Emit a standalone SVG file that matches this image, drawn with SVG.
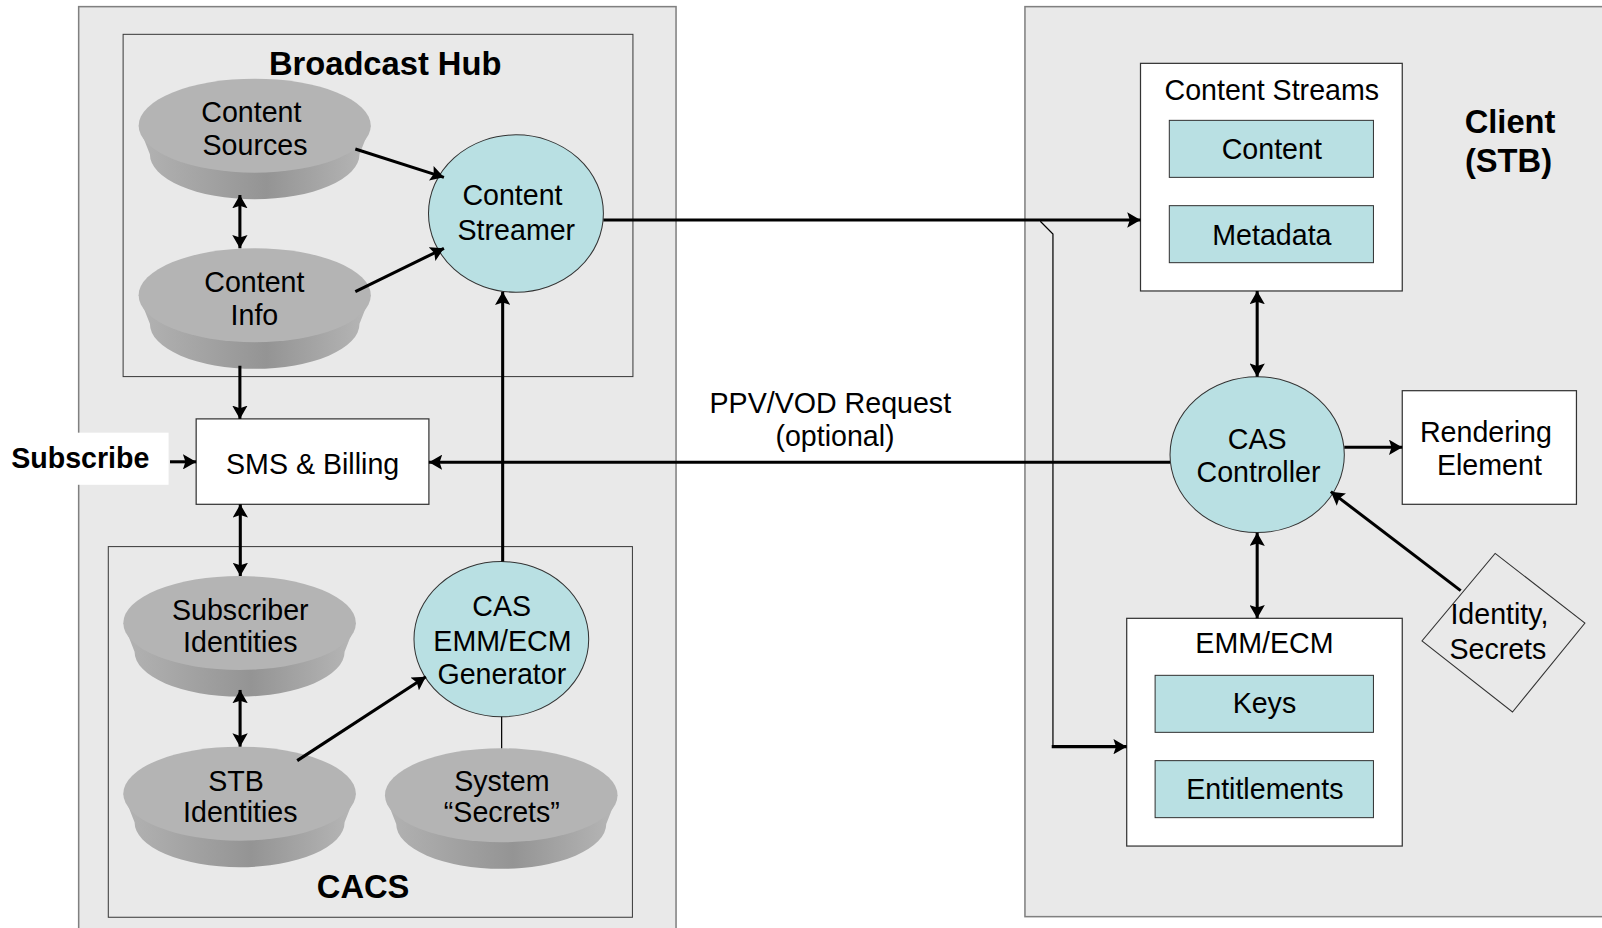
<svg xmlns="http://www.w3.org/2000/svg" width="1602" height="928" viewBox="0 0 1602 928">
<defs>
<linearGradient id="band" x1="0" y1="0" x2="1" y2="0">
<stop offset="0" stop-color="#b3b3b3"/>
<stop offset="0.55" stop-color="#949494"/>
<stop offset="1" stop-color="#b7b7b7"/>
</linearGradient>
<marker id="ah" viewBox="0 0 13 15" refX="13" refY="7.5" markerWidth="13" markerHeight="15" markerUnits="userSpaceOnUse" orient="auto-start-reverse">
<path d="M0,0 L13,7.5 L0,15 L2.5,7.5 Z" fill="#000"/>
</marker>
<style>
.panel{fill:#e9e9e9;stroke:#808080;stroke-width:1.5}
.group{fill:#e9e9e9;stroke:#3a3a3a;stroke-width:1}
.box{fill:#ffffff;stroke:#333333;stroke-width:1.2}
.cyan{fill:#b9e0e3;stroke:#333333;stroke-width:1}
.dbtop{fill:#b4b4b4}
.dbband{fill:url(#band)}
.t{font-family:"Liberation Sans",Arial,sans-serif;font-size:28px;fill:#000;text-anchor:middle}
.b{font-family:"Liberation Sans",Arial,sans-serif;font-size:32px;font-weight:bold;fill:#000;text-anchor:middle}
.c{fill:none;stroke:#000;stroke-width:3}
.thin{fill:none;stroke:#000;stroke-width:1.2}
</style>
</defs>
<rect x="0" y="0" width="1602" height="928" fill="#ffffff"/>
<g id="diagram" transform="scale(1.02168)">
<g id="broadcast-side">
<rect class="panel" x="77" y="6.5" width="584.7" height="920"/>
</g>
<g id="client-side">
<rect class="panel" x="1003.2" y="6.5" width="620" height="890.7"/>
<text class="b" x="1478" y="130.5">Client</text>
<text class="b" x="1476.5" y="168">(STB)</text>
</g>
<g id="subscribe">
<rect x="0" y="423.5" width="165" height="51" fill="#ffffff"/>
<text class="b" x="78.6" y="458.4" style="font-size:28px">Subscribe</text>
</g>
<g id="broadcast-hub">
<rect class="group" x="120.5" y="33.6" width="499" height="335"/>
<text class="b" x="377" y="73.5">Broadcast Hub</text>
</g>
<g id="cacs">
<rect class="group" x="106" y="535" width="513" height="362.8"/>
<text class="b" x="355.4" y="879">CACS</text>
</g>
<g id="content-sources">
<path class="dbband" d="M135.7,123 L146.7,151 A102.6,44 0 0 0 351.9,151 L362.9,123 Z"/>
<ellipse class="dbtop" cx="249.3" cy="123" rx="113.6" ry="46"/>
<text class="t" x="246" y="119">Content</text>
<text class="t" x="249.6" y="152">Sources</text>
</g>
<g id="content-info">
<path class="dbband" d="M135.7,289 L146.7,317 A102.6,44 0 0 0 351.9,317 L362.9,289 Z"/>
<ellipse class="dbtop" cx="249.3" cy="289" rx="113.6" ry="46"/>
<text class="t" x="249" y="285.5">Content</text>
<text class="t" x="249" y="318">Info</text>
</g>
<g id="content-streamer">
<ellipse class="cyan" cx="505" cy="209" rx="85.6" ry="77"/>
<text class="t" x="501.6" y="201">Content</text>
<text class="t" x="505.4" y="235">Streamer</text>
</g>
<g id="sms-billing">
<rect class="box" x="192" y="410" width="227.8" height="83.6"/>
<text class="t" x="306" y="464">SMS &amp; Billing</text>
</g>
<g id="subscriber-identities">
<path class="dbband" d="M120.7,609.8 L131.7,637.8 A102.8,44 0 0 0 337.3,637.8 L348.3,609.8 Z"/>
<ellipse class="dbtop" cx="234.5" cy="609.8" rx="113.8" ry="46"/>
<text class="t" x="235.2" y="607">Subscriber</text>
<text class="t" x="235.2" y="638">Identities</text>
</g>
<g id="stb-identities">
<path class="dbband" d="M120.7,776.8 L131.7,804.8 A102.8,44 0 0 0 337.3,804.8 L348.3,776.8 Z"/>
<ellipse class="dbtop" cx="234.5" cy="776.8" rx="113.8" ry="46"/>
<text class="t" x="231" y="774">STB</text>
<text class="t" x="235.2" y="805">Identities</text>
</g>
<g id="system-secrets">
<path class="dbband" d="M376.8,778.4 L387.8,806.4 A102.8,44 0 0 0 593.4,806.4 L604.4,778.4 Z"/>
<ellipse class="dbtop" cx="490.6" cy="778.4" rx="113.8" ry="46"/>
<text class="t" x="491.2" y="774">System</text>
<text class="t" x="491.2" y="805">“Secrets”</text>
</g>
<g id="emm-ecm-generator">
<ellipse class="cyan" cx="490.7" cy="625.6" rx="85.5" ry="76"/>
<text class="t" x="491" y="603">CAS</text>
<text class="t" x="491.8" y="637">EMM/ECM</text>
<text class="t" x="491.2" y="669.5">Generator</text>
</g>
<g id="ppv-label">
<text class="t" x="812.7" y="404">PPV/VOD Request</text>
<text class="t" x="817.3" y="437">(optional)</text>
</g>
<g id="content-streams">
<rect class="box" x="1116.3" y="62" width="256.2" height="222.8"/>
<text class="t" x="1244.8" y="97.5">Content Streams</text>
<rect class="cyan" x="1144.5" y="117.8" width="199.8" height="55.8"/>
<text class="t" x="1244.8" y="156">Content</text>
<rect class="cyan" x="1144.5" y="201.3" width="199.8" height="55.8"/>
<text class="t" x="1244.9" y="240">Metadata</text>
</g>
<g id="cas-controller">
<ellipse class="cyan" cx="1230.5" cy="445" rx="85.3" ry="76.3"/>
<text class="t" x="1230.5" y="439">CAS</text>
<text class="t" x="1231.8" y="471.5">Controller</text>
</g>
<g id="rendering-element">
<rect class="box" x="1372.5" y="382.4" width="170.5" height="111.2"/>
<text class="t" x="1454.4" y="432.3">Rendering</text>
<text class="t" x="1457.8" y="465">Element</text>
</g>
<g id="emm-ecm">
<rect class="box" x="1102.8" y="605.2" width="269.7" height="222.9"/>
<text class="t" x="1237.6" y="639.5">EMM/ECM</text>
<rect class="cyan" x="1130.6" y="661" width="213.7" height="55.8"/>
<text class="t" x="1237.6" y="698">Keys</text>
<rect class="cyan" x="1130.6" y="744.5" width="213.7" height="55.8"/>
<text class="t" x="1238" y="782">Entitlements</text>
</g>
<g id="identity-secrets">
<polygon points="1463.4,541.6 1551.3,609.8 1480.4,696.9 1391.8,627.4" fill="none" stroke="#333333" stroke-width="1"/>
<text class="t" x="1467.6" y="610.7">Identity,</text>
<text class="t" x="1466.1" y="645.3">Secrets</text>
</g>
<g id="connectors">
<line class="c" x1="347.8" y1="145.9" x2="434.5" y2="173.6" marker-end="url(#ah)"/>
<line class="c" x1="347.8" y1="285.5" x2="434.5" y2="243" marker-end="url(#ah)"/>
<line class="c" x1="234.8" y1="190.9" x2="234.8" y2="243" marker-start="url(#ah)" marker-end="url(#ah)"/>
<line class="c" x1="234.8" y1="358" x2="234.8" y2="410" marker-end="url(#ah)"/>
<line class="c" x1="235.2" y1="493.6" x2="235.2" y2="563.8" marker-start="url(#ah)" marker-end="url(#ah)"/>
<line class="c" x1="235" y1="675.3" x2="235" y2="730.8" marker-start="url(#ah)" marker-end="url(#ah)"/>
<line class="c" x1="290.9" y1="744.5" x2="416.8" y2="662.3" marker-end="url(#ah)"/>
<line class="c" x1="492" y1="549.7" x2="492" y2="285.5" marker-end="url(#ah)"/>
<line class="thin" x1="491" y1="701.6" x2="491" y2="732.4"/>
<line class="c" x1="166.4" y1="452" x2="192" y2="452" marker-end="url(#ah)"/>
<line class="c" x1="1145.2" y1="452.5" x2="419.8" y2="452.5" marker-end="url(#ah)"/>
<line class="c" x1="590.6" y1="215.3" x2="1116.3" y2="215.3" marker-end="url(#ah)"/>
<polyline class="thin" points="1018.2,216.5 1030.6,229 1030.6,730.8"/>
<line class="c" x1="1029.4" y1="730.8" x2="1102.8" y2="730.8" marker-end="url(#ah)"/>
<line class="c" x1="1230.5" y1="284.8" x2="1230.5" y2="368.7" marker-start="url(#ah)" marker-end="url(#ah)"/>
<line class="c" x1="1315.8" y1="437.8" x2="1372.5" y2="437.8" marker-end="url(#ah)"/>
<line class="c" x1="1230.5" y1="521.4" x2="1230.5" y2="605.2" marker-start="url(#ah)" marker-end="url(#ah)"/>
<line class="c" x1="1429.7" y1="578.1" x2="1302.6" y2="481.2" marker-end="url(#ah)"/>
</g>
</g>
</svg>
